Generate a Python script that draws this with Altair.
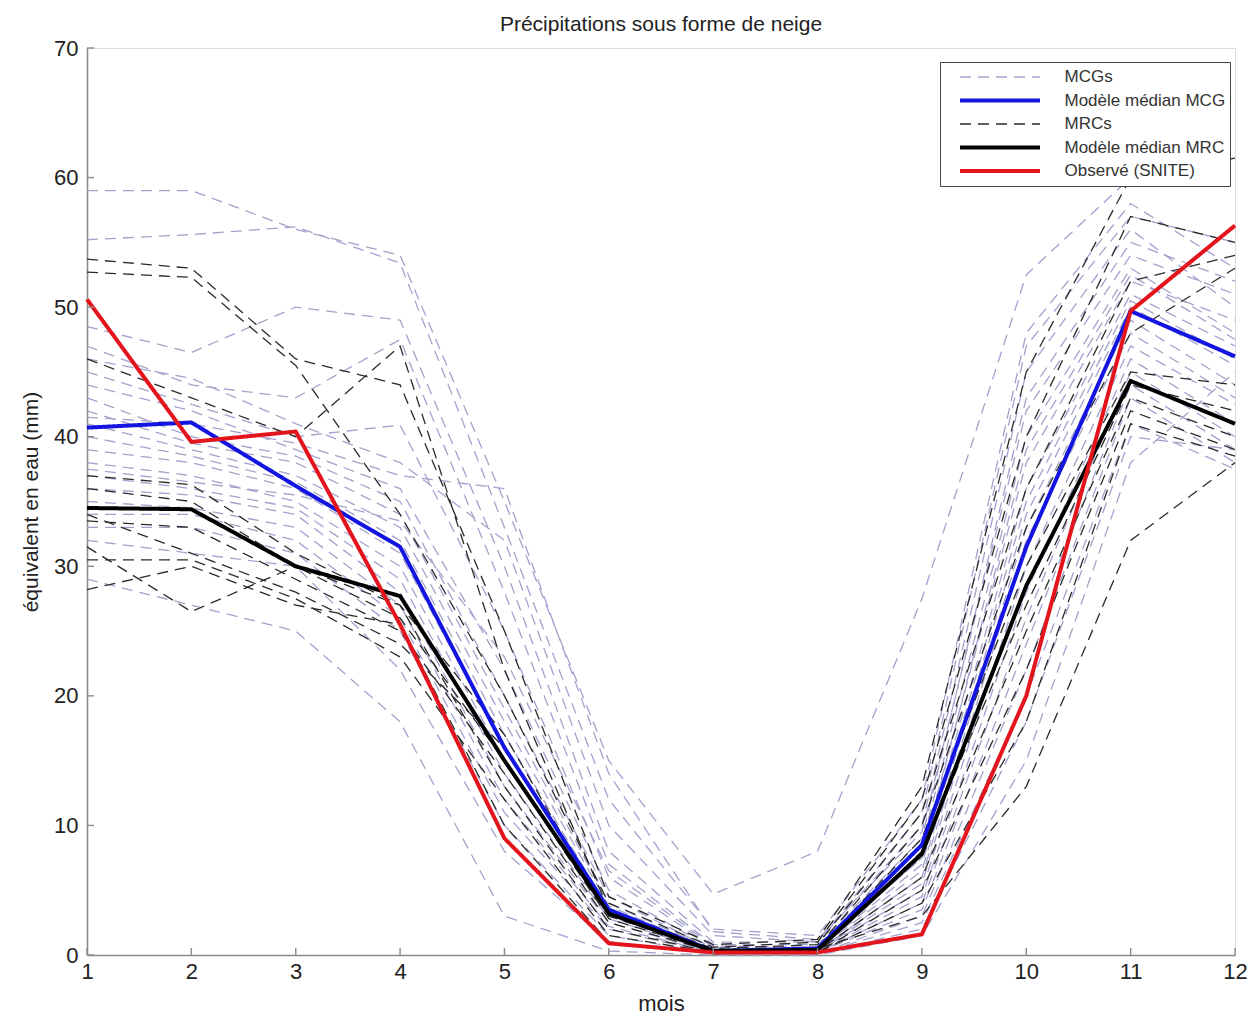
import altair as alt
import pandas as pd

months = list(range(1, 13))

labels = ["MCGs", "Modèle médian MCG", "MRCs", "Modèle médian MRC", "Observé (SNITE)"]
colors = ["#a2a2cc", "#1414e0", "#2a2a2a", "#000000", "#e3141c"]
dashes = [[11, 7], [1, 0], [11, 7], [1, 0], [1, 0]]
widths = [1.3, 4, 1.3, 4, 4]

mcg_series = [
    [59.0, 59.0, 56.0, 54.0, 35.0, 15.0, 4.7, 8.0, 27.5, 52.5, 60.0, 62.0],
    [55.2, 55.6, 56.2, 53.4, 33.0, 12.0, 2.0, 1.5, 12.0, 48.0, 58.0, 53.0],
    [48.5, 46.5, 50.0, 49.0, 30.0, 8.0, 1.0, 1.0, 10.0, 45.0, 56.0, 50.0],
    [47.0, 44.0, 43.0, 47.5, 28.0, 7.0, 0.8, 0.8, 9.0, 43.0, 55.0, 52.0],
    [46.0, 44.5, 41.0, 38.0, 32.0, 10.0, 1.5, 1.0, 11.0, 47.0, 57.0, 55.0],
    [45.0, 42.5, 40.0, 40.9, 25.0, 6.0, 0.6, 0.6, 8.5, 40.0, 53.0, 48.0],
    [44.0, 42.0, 39.0, 36.0, 22.0, 5.0, 0.5, 0.5, 8.0, 38.0, 52.0, 49.0],
    [43.0, 40.0, 38.5, 35.0, 20.0, 4.5, 0.4, 0.5, 7.5, 36.0, 51.0, 47.0],
    [42.0, 39.5, 38.0, 34.0, 19.0, 4.0, 0.4, 0.4, 7.0, 35.0, 50.5, 46.0],
    [41.5, 41.0, 39.5, 37.0, 36.0, 14.0, 1.8, 1.2, 9.5, 42.0, 54.0, 51.0],
    [41.0, 39.0, 37.0, 33.0, 18.0, 3.8, 0.3, 0.4, 6.5, 34.0, 50.0, 45.5],
    [40.0, 38.5, 36.5, 32.0, 17.0, 3.5, 0.3, 0.3, 6.0, 33.0, 49.0, 44.0],
    [39.0, 38.0, 36.0, 31.0, 16.0, 3.2, 0.3, 0.3, 5.5, 32.0, 48.0, 43.0],
    [38.0, 37.0, 35.0, 30.0, 15.0, 3.0, 0.2, 0.3, 5.0, 30.0, 47.0, 42.5],
    [37.5, 36.5, 35.5, 33.5, 23.0, 6.5, 0.7, 0.6, 7.5, 39.0, 52.5, 47.5],
    [37.0, 36.0, 34.5, 29.0, 14.0, 2.8, 0.2, 0.2, 4.5, 28.0, 46.0, 41.0],
    [36.0, 35.5, 34.0, 28.0, 13.0, 2.5, 0.2, 0.2, 4.0, 26.0, 45.0, 40.0],
    [35.0, 34.5, 33.0, 27.0, 12.0, 2.2, 0.2, 0.2, 3.5, 24.0, 44.0, 39.0],
    [34.0, 34.0, 32.0, 26.0, 11.0, 2.0, 0.1, 0.1, 3.0, 22.0, 43.0, 38.0],
    [33.0, 33.0, 31.0, 25.0, 10.0, 1.5, 0.1, 0.1, 2.5, 20.0, 41.0, 37.5],
    [32.0, 31.0, 30.0, 22.0, 8.0, 1.0, 0.1, 0.1, 2.0, 18.0, 40.0, 39.0],
    [29.0, 27.0, 25.0, 18.0, 3.0, 0.3, 0.0, 0.0, 1.5, 15.0, 38.0, 45.0],
]

mrc_series = [
    [53.7, 53.0, 46.0, 44.0, 25.0, 4.5, 0.8, 1.2, 13.0, 45.0, 60.0, 61.5],
    [52.7, 52.3, 45.5, 34.0, 20.0, 4.0, 0.6, 1.0, 12.0, 40.0, 57.0, 55.0],
    [46.0, 43.0, 40.0, 47.0, 22.0, 3.5, 0.5, 0.8, 11.0, 36.0, 52.0, 54.0],
    [37.0, 36.3, 31.0, 27.0, 17.0, 3.0, 0.4, 0.6, 10.0, 33.0, 48.0, 53.0],
    [36.0, 35.0, 30.0, 26.0, 15.0, 2.8, 0.3, 0.5, 9.0, 30.0, 45.0, 44.0],
    [33.5, 33.0, 29.0, 25.0, 14.0, 2.5, 0.3, 0.4, 8.0, 27.0, 44.0, 42.0],
    [31.5, 26.5, 30.0, 27.0, 13.0, 2.0, 0.2, 0.3, 6.0, 25.0, 43.0, 40.0],
    [30.5, 30.5, 27.5, 23.0, 12.0, 1.5, 0.2, 0.2, 5.0, 22.0, 42.0, 39.0],
    [28.2, 30.0, 27.0, 25.5, 10.0, 1.0, 0.1, 0.2, 4.0, 18.0, 41.0, 38.5],
    [34.0, 31.0, 28.0, 24.0, 16.0, 3.2, 0.4, 0.5, 3.0, 13.0, 32.0, 38.0],
]

mcg_median = [40.7, 41.1, 36.2, 31.5, 16.0, 3.5, 0.3, 0.5, 8.5, 31.5, 49.7, 46.2]
mrc_median = [34.5, 34.4, 30.0, 27.7, 15.0, 3.2, 0.3, 0.4, 7.8, 28.5, 44.3, 41.0]
observed = [50.6, 39.6, 40.4, 25.5, 9.0, 0.9, 0.2, 0.2, 1.6, 20.0, 49.7, 56.3]

y_ticks = [0, 10, 20, 30, 40, 50, 60, 70]

rows = []
for i, s in enumerate(mcg_series):
    for m, v in zip(months, s):
        rows.append({"series": labels[0], "model": f"mcg{i}", "month": m, "value": v})
for i, s in enumerate(mrc_series):
    for m, v in zip(months, s):
        rows.append({"series": labels[2], "model": f"mrc{i}", "month": m, "value": v})
for lab, s in [(labels[1], mcg_median), (labels[3], mrc_median), (labels[4], observed)]:
    for m, v in zip(months, s):
        rows.append({"series": lab, "model": lab, "month": m, "value": v})
df = pd.DataFrame(rows)

FONT = "Liberation Sans"
W, H = 1148, 907

leg = alt.Legend(
    title=None, orient="none", legendX=853, legendY=14, direction="vertical",
    symbolType="stroke", symbolSize=6400, clipHeight=21, rowPadding=2.5,
    symbolOffset=13.5, labelOffset=22.5, padding=4.5, labelLimit=400,
    labelFont=FONT, labelFontSize=17, labelColor="#333",
    strokeColor="#444", fillColor="white", cornerRadius=0,
)

xscale = alt.Scale(domain=[1, 12], nice=False, zero=False)
yscale = alt.Scale(domain=[0, 70], nice=False)

xaxis = alt.Axis(values=months, format="d", ticks=False, grid=False, labelFlush=False,
                 domainColor="#8a8a8a", domainWidth=1.6, labelFont=FONT, labelFontSize=22,
                 labelColor="#222", labelPadding=6, title="mois", titleFont=FONT,
                 titleFontSize=22, titleFontWeight="normal", titleColor="#222", titlePadding=11)
yaxis = alt.Axis(values=y_ticks, format="d", ticks=False, grid=False, labelFlush=False,
                 domainColor="#8a8a8a", domainWidth=1.6, labelFont=FONT, labelFontSize=22,
                 labelColor="#222", labelPadding=9, title="équivalent en eau (mm)",
                 titleFont=FONT, titleFontSize=21, titleFontWeight="normal",
                 titleColor="#222", titlePadding=12)

enc = dict(
    x=alt.X("month:Q", scale=xscale, axis=xaxis),
    y=alt.Y("value:Q", scale=yscale, axis=yaxis),
    color=alt.Color("series:N", scale=alt.Scale(domain=labels, range=colors), legend=leg),
    strokeDash=alt.StrokeDash("series:N", scale=alt.Scale(domain=labels, range=dashes), legend=leg),
    strokeWidth=alt.StrokeWidth("series:N", scale=alt.Scale(type="ordinal", domain=labels, range=widths), legend=leg),
    detail="model:N",
)

def layer_for(name):
    return alt.Chart(df).transform_filter(alt.datum.series == name).mark_line(strokeJoin="miter").encode(**enc)

layers = [layer_for(labels[0]), layer_for(labels[2]), layer_for(labels[1]),
          layer_for(labels[3]), layer_for(labels[4])]

xt = pd.DataFrame({"month": months})
yt = pd.DataFrame({"value": y_ticks})
xticks = alt.Chart(xt).mark_rule(color="#8a8a8a", strokeWidth=1.4).encode(
    x=alt.X("month:Q", scale=xscale), y=alt.value(H), y2=alt.value(H - 7))
yticks = alt.Chart(yt).mark_rule(color="#8a8a8a", strokeWidth=1.4).encode(
    y=alt.Y("value:Q", scale=yscale), x=alt.value(0), x2=alt.value(7))

chart = alt.layer(*layers, xticks, yticks).properties(
    width=W, height=H,
    padding={"left": 79, "top": 40, "right": 17, "bottom": 64},
    autosize=alt.AutoSizeParams(type="none"),
    title=alt.TitleParams("Précipitations sous forme de neige", font=FONT, fontSize=21,
                          fontWeight="normal", color="#222", offset=2),
).configure_view(stroke="transparent", strokeWidth=0, strokeOpacity=0).configure(background="white")

chart.save("out.html", embed_options={"renderer": "svg", "actions": False})
